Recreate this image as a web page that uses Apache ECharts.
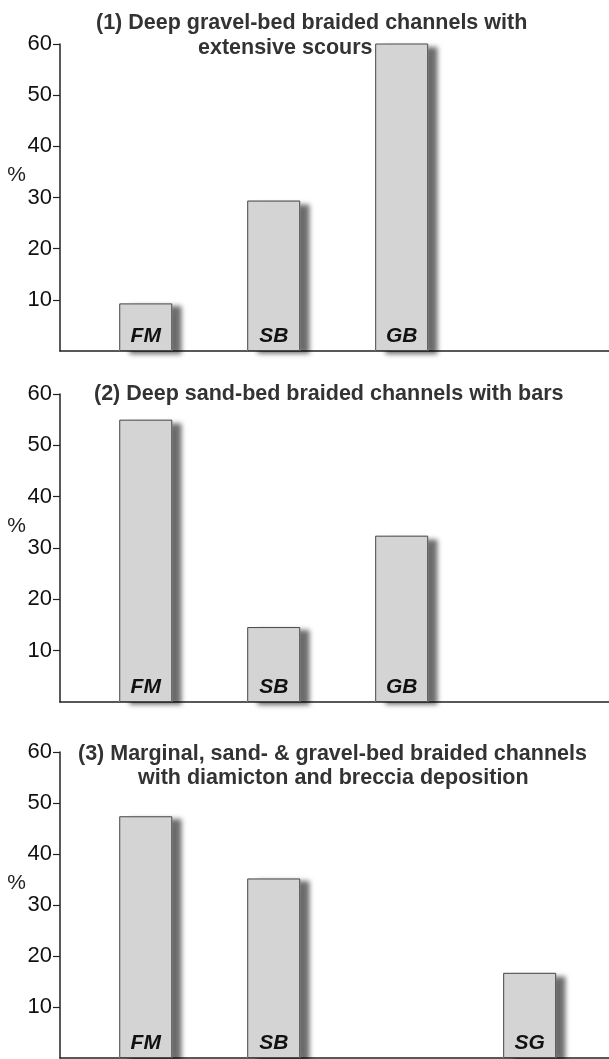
<!DOCTYPE html>
<html>
<head>
<meta charset="utf-8">
<script src="https://cdn.jsdelivr.net/npm/echarts@6/dist/echarts.min.js"></script>
<style>
html,body{margin:0;padding:0;background:#fff;}
#chart{width:609px;height:1059px;}
</style>
</head>
<body>
<div id="chart"></div>
<script>
// lithofacies assemblages, % per facies
var categories = ["FM", "SB", "GB", "SG"];
var slots = [1, 2, 3, 4];
var panel1 = [9.3, 29.4, 60.2, null];
var panel2 = [55.0, 14.6, 32.4, null];
var panel3 = [47.4, 35.2, null, 16.7];
var yTicks = [10, 20, 30, 40, 50, 60];

var titles = [
	["(1) Deep gravel-bed braided channels with", "extensive scours"],
	["(2) Deep sand-bed braided channels with bars"],
	["(3) Marginal, sand- & gravel-bed braided channels", "with diamicton and breccia deposition"]
];

var font = "Liberation Sans, Arial, sans-serif";
var chart = echarts.init(document.getElementById("chart"), null, {renderer: "canvas"});

function toData(vals) {
	var out = [];
	for (var i = 0; i < vals.length; i++) {
		if (vals[i] == null) continue;
		out.push({name: categories[i], value: [slots[i], vals[i]]});
	}
	return out;
}

var grids = [
	{left: 60, width: 549, top: 44, height: 307},
	{left: 60, width: 549, top: 394, height: 308},
	{left: 60, width: 549, top: 752, height: 306}
];

var titleStyle = {fontSize: 21.5, fontWeight: "bold", color: "#333", fontFamily: font};
var titleBoxes = [
	{text: titles[0][0], left: 96, top: 12},
	{text: titles[0][1], left: 198, top: 37},
	{text: titles[1][0], left: 94, top: 383},
	{text: titles[2][0], left: 78, top: 743},
	{text: titles[2][1], left: 138, top: 767}
];

var xAxes = [], yAxes = [], series = [];
var panels = [panel1, panel2, panel3];
for (var p = 0; p < 3; p++) {
	xAxes.push({
		type: "value", gridIndex: p, min: 0.33, max: 4.62,
		axisLine: {show: true, onZero: false, lineStyle: {color: "#222", width: 1.5}},
		axisTick: {show: false}, axisLabel: {show: false}, splitLine: {show: false}
	});
	yAxes.push({
		type: "value", gridIndex: p, min: 0, max: 60, interval: 10,
		name: "%", nameLocation: "middle", nameRotate: 0, nameGap: 34, nameMoveOverlap: false,
		nameTextStyle: {fontSize: 21, color: "#222", fontFamily: font, verticalAlign: "bottom", lineHeight: 44},
		axisLine: {show: true, onZero: false, lineStyle: {color: "#222", width: 1.5}},
		axisTick: {show: true, length: 7, customValues: yTicks, lineStyle: {color: "#222", width: 1.2}},
		axisLabel: {
			margin: 8, fontSize: 22, color: "#111", fontFamily: font,
			customValues: yTicks
		},
		splitLine: {show: false}
	});
	// filled bar with drop shadow (no stroke, so the shadow stays on the outside)
	series.push({
		type: "bar", xAxisIndex: p, yAxisIndex: p, barWidth: 53,
		data: toData(panels[p]),
		itemStyle: {
			color: "#d4d4d4",
			shadowColor: "rgba(0,0,0,0.58)", shadowBlur: 5, shadowOffsetX: 10, shadowOffsetY: 3
		},
		silent: true, animation: false
	});
	// outline + facies label on top
	series.push({
		type: "bar", xAxisIndex: p, yAxisIndex: p, barWidth: 53, barGap: "-100%",
		data: toData(panels[p]),
		itemStyle: {color: "rgba(0,0,0,0)", borderColor: "#4a4a4a", borderWidth: 1},
		label: {
			show: true, position: "insideBottom", distance: 4, formatter: "{b}",
			fontSize: 21, fontWeight: "bold", fontStyle: "italic", color: "#111", fontFamily: font
		},
		silent: true, animation: false
	});
}

chart.setOption({
	backgroundColor: "#fff",
	animation: false,
	title: titleBoxes.map(function(t) {
		return {text: t.text, left: t.left, top: t.top, padding: 0, textStyle: titleStyle};
	}),
	grid: grids,
	xAxis: xAxes,
	yAxis: yAxes,
	series: series
});
</script>
</body>
</html>
